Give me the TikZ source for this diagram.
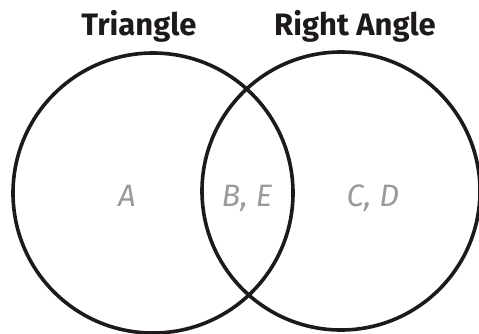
\documentclass[tikz,border=0pt]{standalone}
\usepackage{fontspec}
\setmainfont{Fira Sans}
\definecolor{labelgrey}{HTML}{9A9A9A}
\definecolor{ink}{HTML}{1E1A1B}
\begin{document}
\begin{tikzpicture}[x=1pt,y=-1pt,
  venn/.style={circle,draw=ink,line width=3.6pt,inner sep=0pt,minimum size=#1},
  title/.style={font=\fontsize{31}{33}\selectfont\bfseries,text=ink,anchor=base},
  region/.style={font=\fontsize{31}{33}\selectfont\itshape,text=labelgrey,anchor=base}]
\useasboundingbox (0,0) rectangle (479,333);
\node[venn=280pt] (L) at (153,193) {};
\node[venn=278pt] (R) at (341,191) {};
\node[title] (tl) at (139,35.5) {Triangle};
\node[title] (tr) at (355,35.5) {Right Angle};
\node[region] (a) at (127,206) {A};
\node[region] (be) at (247,206) {B, E};
\node[region] (cd) at (373,206) {C, D};
\end{tikzpicture}
\end{document}
